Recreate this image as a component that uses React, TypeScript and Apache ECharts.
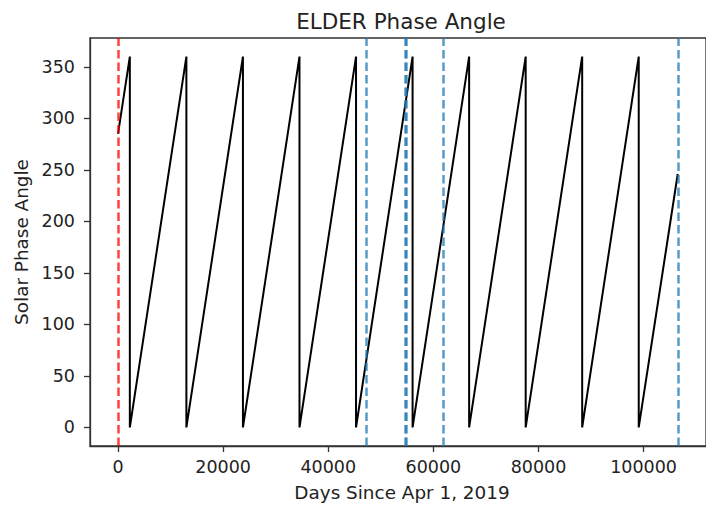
import React, { useEffect, useRef } from "react";
import * as echarts from "echarts";

// Tick labels
const X_TICKS = [0, 20000, 40000, 60000, 80000, 100000];
const Y_TICKS = [0, 50, 100, 150, 200, 250, 300, 350];

// Sawtooth: start, wrap days (360 -> 0), end
const START_DAY = 0;
const START_ANGLE = 285;
const WRAP_DAYS = [2250, 13010, 23770, 34530, 45290, 56050, 66810, 77570, 88320, 99080];
const PEAK_ANGLE = 360;
const TROUGH_ANGLE = 0;
const END_DAY = 106500;
const END_ANGLE = 246;

// Vertical dashed markers
const RED_LINES = [0];
const BLUE_LINES = [47320, 54700, 54800, 61800, 106550];

const FONT = "DejaVu Sans";

export default function App() {
  const ref = useRef<HTMLDivElement>(null);
  useEffect(() => {
    document.body.style.margin = "0";
    const chart = echarts.init(ref.current!, null, { renderer: "svg", width: 706, height: 506 });

    const points: [number, number][] = [[START_DAY, START_ANGLE]];
    WRAP_DAYS.forEach((d) => {
      points.push([d, PEAK_ANGLE]);
      points.push([d, TROUGH_ANGLE]);
    });
    points.push([END_DAY, END_ANGLE]);

    const dash = [8.5, 4];
    const markData: any[] = [
      ...RED_LINES.map((v) => ({ xAxis: v, lineStyle: { color: "rgba(255,0,0,0.75)", width: 2.5, type: dash } })),
      ...BLUE_LINES.map((v) => ({ xAxis: v, lineStyle: { color: "rgba(31,119,180,0.75)", width: 2.5, type: dash } })),
    ];

    const axisColor = "#333";
    const option: any = {
      animation: false,
      backgroundColor: "#fff",
      grid: {
        left: 90,
        top: 38,
        width: 625,
        height: 408,
        show: true,
        borderColor: axisColor,
        borderWidth: 1.3,
        backgroundColor: "transparent",
      },
      xAxis: {
        type: "value",
        min: -5330,
        max: 111880,
        axisLine: { show: true, onZero: false, lineStyle: { color: axisColor, width: 1.3 } },
        axisTick: { show: true, length: 6, inside: false, customValues: X_TICKS, lineStyle: { color: axisColor, width: 1.3 } },
        axisLabel: {
          show: true,
          customValues: X_TICKS,
          formatter: (v: number) => String(v),
          margin: 12,
          fontFamily: FONT,
          fontSize: 17.5,
          color: "#222",
        },
        splitLine: { show: false },
      },
      yAxis: {
        type: "value",
        min: -18,
        max: 378,
        axisLine: { show: true, onZero: false, lineStyle: { color: axisColor, width: 1.3 } },
        axisTick: { show: true, length: 6, inside: false, customValues: Y_TICKS, lineStyle: { color: axisColor, width: 1.3 } },
        axisLabel: {
          show: true,
          customValues: Y_TICKS,
          formatter: (v: number) => String(v),
          margin: 15,
          fontFamily: FONT,
          fontSize: 17.5,
          color: "#222",
        },
        splitLine: { show: false },
      },
      graphic: [
        {
          type: "text",
          x: 401,
          y: 21,
          style: { text: "ELDER Phase Angle", font: `21.5px "${FONT}"`, fill: "#222", textAlign: "center", textVerticalAlign: "middle" },
        },
        {
          type: "text",
          x: 402,
          y: 492,
          style: { text: "Days Since Apr 1, 2019", font: `18.4px "${FONT}"`, fill: "#222", textAlign: "center", textVerticalAlign: "middle" },
        },
        {
          type: "text",
          x: 21,
          y: 242,
          rotation: Math.PI / 2,
          style: { text: "Solar Phase Angle", font: `18.4px "${FONT}"`, fill: "#222", textAlign: "center", textVerticalAlign: "middle" },
        },
      ],
      series: [
        {
          type: "line",
          data: points,
          showSymbol: false,
          symbol: "none",
          lineStyle: { color: "#000", width: 2 },
          silent: true,
          markLine: {
            silent: true,
            symbol: ["none", "none"],
            label: { show: false },
            data: markData,
          },
        },
      ],
    };
    chart.setOption(option);
    return () => chart.dispose();
  }, []);
  return <div ref={ref} style={{ width: 706, height: 506 }} />;
}
